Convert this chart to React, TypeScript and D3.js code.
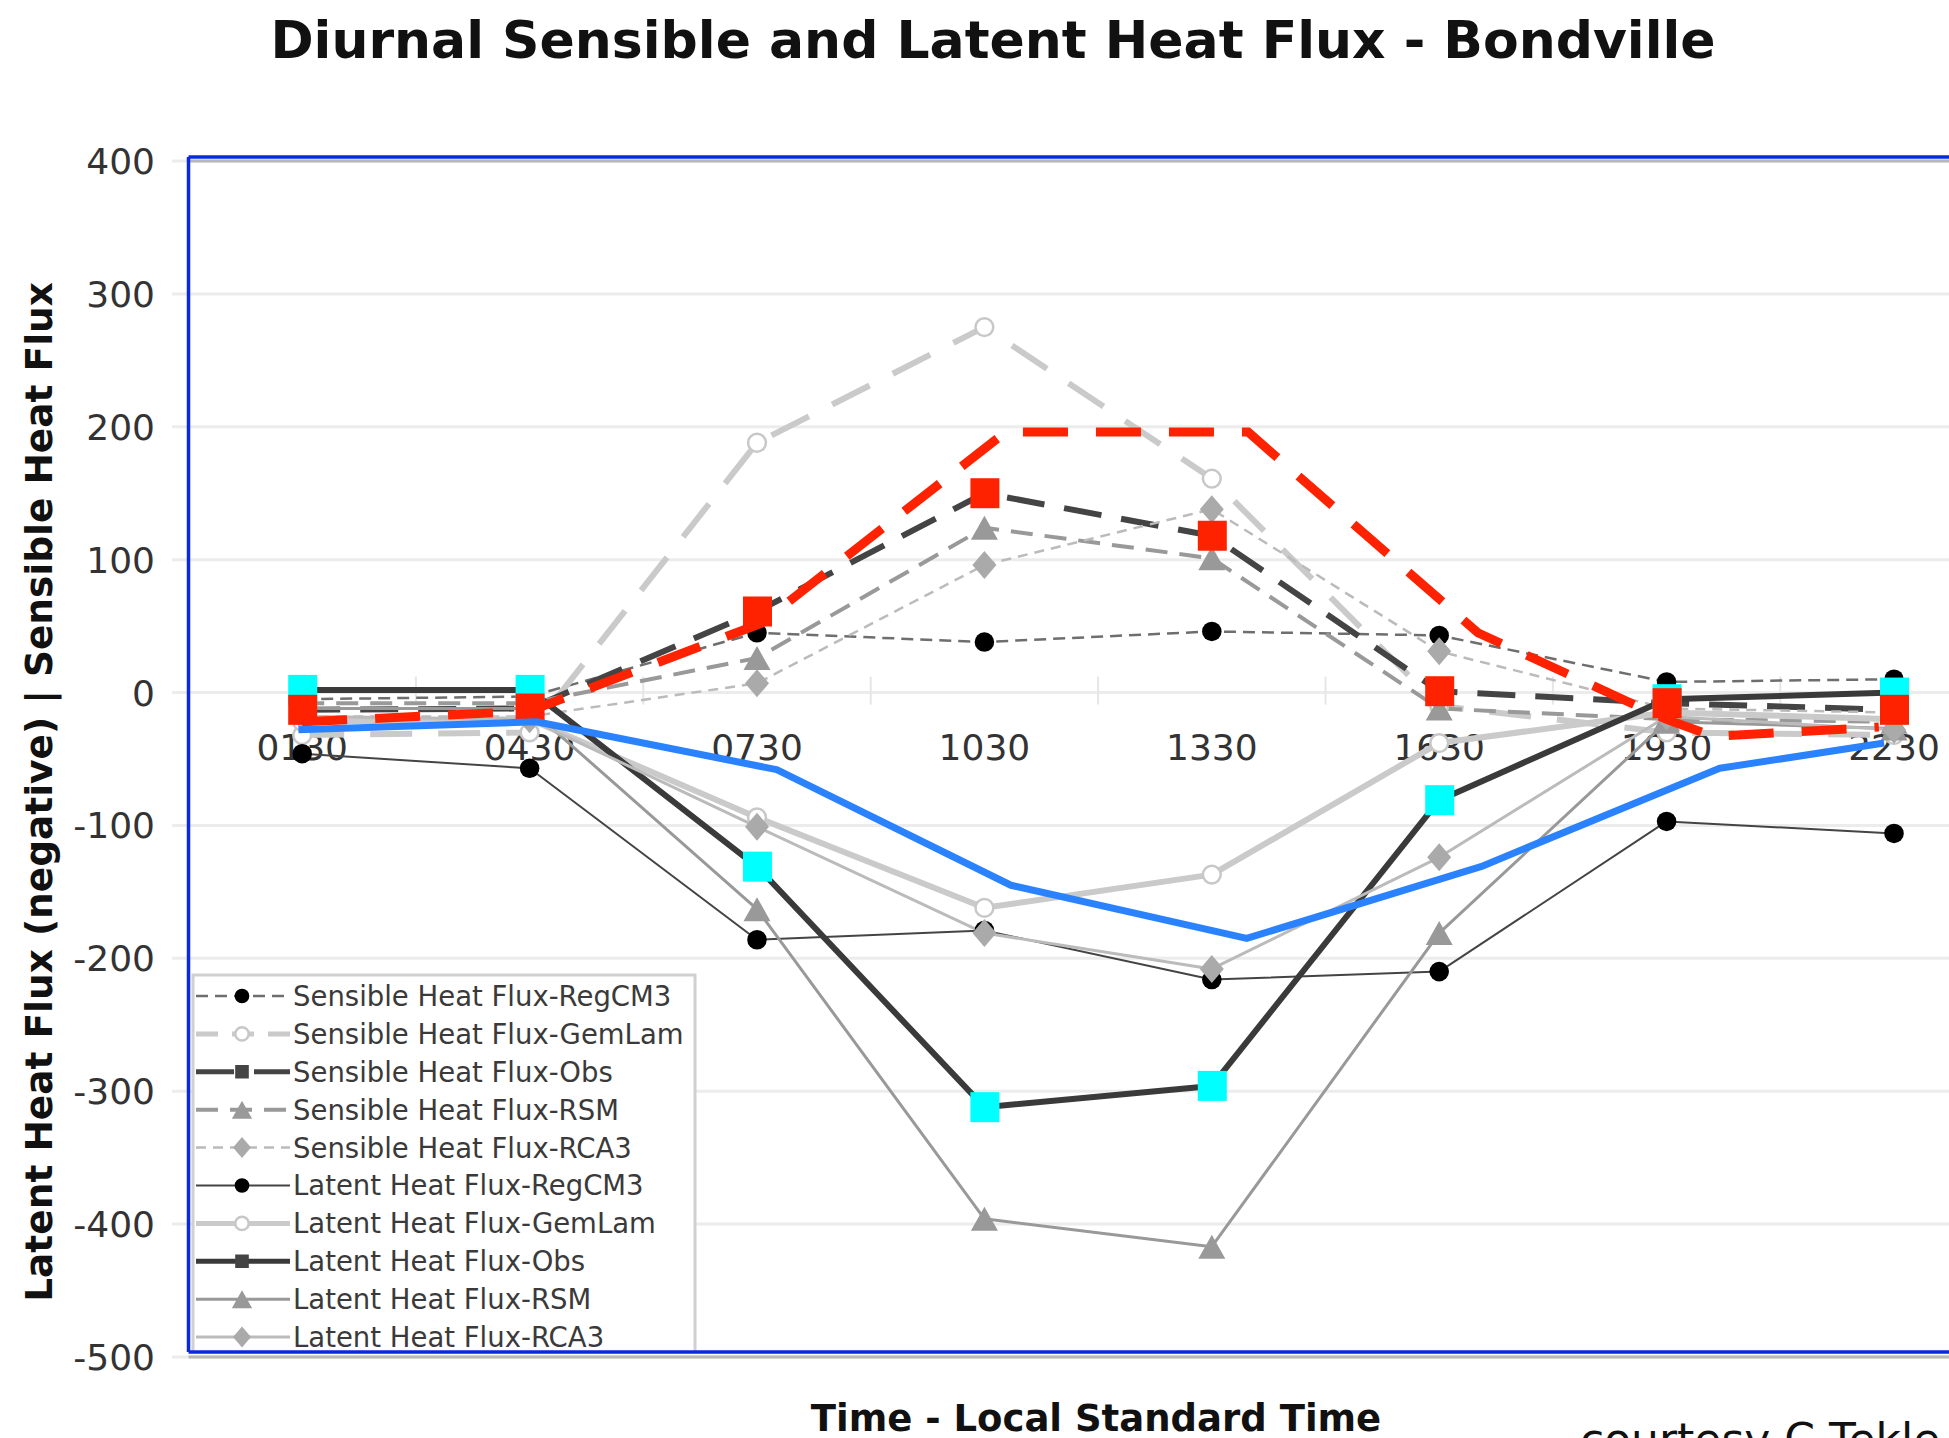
import React from 'react';
import * as d3 from 'd3';

const W = 1949;
const H = 1438;

// categories (local standard time) and their hour positions
const times = ['0130', '0430', '0730', '1030', '1330', '1630', '1930', '2230'];
const hours = [1.5, 4.5, 7.5, 10.5, 13.5, 16.5, 19.5, 22.5];
const yTicks = [400, 300, 200, 100, 0, -100, -200, -300, -400, -500];
const bandEdges = [3, 6, 9, 12, 15, 18, 21];

// Sensible heat flux (positive)
const sensibleRegCM3 = [-5, -3, 45, 38, 46, 43, 8, 10];
const sensibleGemLam = [-32, -30, 188, 275, 161, -10, -30, -32];
const sensibleObs = [-13, -12, 61, 150, 118, 1, -8, -13];
const sensibleRSM = [-8, -8, 26, 124, 101, -12, -20, -22];
const sensibleRCA3 = [-18, -18, 7, 96, 138, 31, -12, -15];

// Latent heat flux (negative)
const latentRegCM3 = [-46, -57, -186, -179, -216, -210, -97, -106];
const latentGemLam = [-22, -20, -94, -162, -137, -38, -15, -20];
const latentObs = [2, 2, -131, -312, -296, -81, -5, 0];
const latentRSM = [-12, -12, -163, -396, -417, -181, -22, -27];
const latentRCA3 = [-18, -20, -101, -181, -208, -124, -18, -28];

// hand-drawn overlays (hour of day, flux)
const redHours = [1.5, 4.5, 7.55, 10.78, 13.98, 17.01, 19.49, 20.12, 22.3];
const redValues = [-22, -14, 52, 196, 196, 45, -20, -33, -26];
const blueHours = [1.45, 4.59, 7.76, 10.85, 13.96, 17.05, 20.2, 22.37];
const blueValues = [-28, -22, -58, -145, -185, -131, -57, -38];

type Sym = 'circle' | 'open' | 'square' | 'triangle' | 'diamond';
interface Series {
  name: string;
  values: number[];
  color: string;
  width: number;
  dash?: string;
  marker: Sym;
  markerColor: string;
}

const series: Series[] = [
  { name: 'Sensible Heat Flux-RegCM3', values: sensibleRegCM3, color: '#6e6e6e', width: 2.5, dash: '12,7', marker: 'circle', markerColor: '#000' },
  { name: 'Sensible Heat Flux-GemLam', values: sensibleGemLam, color: '#cacaca', width: 6, dash: '42,26', marker: 'open', markerColor: '#c8c8c8' },
  { name: 'Sensible Heat Flux-Obs', values: sensibleObs, color: '#444', width: 6, dash: '38,20', marker: 'square', markerColor: '#444' },
  { name: 'Sensible Heat Flux-RSM', values: sensibleRSM, color: '#999', width: 4, dash: '22,12', marker: 'triangle', markerColor: '#999' },
  { name: 'Sensible Heat Flux-RCA3', values: sensibleRCA3, color: '#bbb', width: 2.5, dash: '10,7', marker: 'diamond', markerColor: '#aaa' },
  { name: 'Latent Heat Flux-RegCM3', values: latentRegCM3, color: '#444', width: 2, marker: 'circle', markerColor: '#000' },
  { name: 'Latent Heat Flux-GemLam', values: latentGemLam, color: '#cacaca', width: 6, marker: 'open', markerColor: '#c8c8c8' },
  { name: 'Latent Heat Flux-Obs', values: latentObs, color: '#3a3a3a', width: 6, marker: 'square', markerColor: '#444' },
  { name: 'Latent Heat Flux-RSM', values: latentRSM, color: '#999', width: 3, marker: 'triangle', markerColor: '#999' },
  { name: 'Latent Heat Flux-RCA3', values: latentRCA3, color: '#bbb', width: 3, marker: 'diamond', markerColor: '#aaa' },
];

const FONT = '"DejaVu Sans", Verdana, sans-serif';

const plotLeft = 188.5;
const hourPx = 75.8;
const x = d3.scaleLinear().domain([0, 24]).range([plotLeft, plotLeft + 24 * hourPx]);
const y = d3.scaleLinear().domain([-500, 400]).range([1357, 161]);

const symbolPath = (s: Sym, k: number) => {
  if (s === 'diamond') {
    const w = 12 * k;
    const h = 14 * k;
    return `M0,${-h}L${w},0L0,${h}L${-w},0Z`;
  }
  if (s === 'triangle') {
    const w = 13.5 * k;
    const h = 12 * k;
    return `M0,${-h}L${w},${h}L${-w},${h}Z`;
  }
  const type = s === 'square' ? d3.symbolSquare : d3.symbolCircle;
  const size = s === 'square' ? 330 : s === 'open' ? 250 : 300;
  return d3.symbol().type(type).size(size * k * k)() || '';
};

function Marker({ s, color, cx, cy, scale = 1 }: { s: Sym; color: string; cx: number; cy: number; scale?: number }) {
  const d = symbolPath(s, scale);
  if (s === 'open') {
    return <path d={d} transform={`translate(${cx},${cy})`} fill="#fff" stroke={color} strokeWidth={2.5} />;
  }
  return <path d={d} transform={`translate(${cx},${cy})`} fill={color} />;
}

export default function App() {
  const line = d3.line<number>().x((_, i) => x(hours[i])).y((d) => y(d));
  const redLine = d3.line<number>().x((_, i) => x(redHours[i])).y((d) => y(d));
  const blueLine = d3.line<number>().x((_, i) => x(blueHours[i])).y((d) => y(d));

  const plotTop = 157;
  const plotBottom = 1352;
  const legendX = 193;
  const legendY = 975;
  const legendRow = 37.9;
  const legendFirst = 996;

  return (
    <div style={{ position: 'absolute', left: 0, top: 0 }}>
      <svg width={W} height={H} style={{ display: 'block', background: '#fff' }}>
        <defs>
          <clipPath id="plotClip">
            <rect x={plotLeft} y={plotTop} width={W - plotLeft} height={plotBottom - plotTop} />
          </clipPath>
        </defs>

        {/* title */}
        <text x={993} y={58} textAnchor="middle" fontFamily={FONT} fontWeight="bold" fontSize={52} fill="#111">
          Diurnal Sensible and Latent Heat Flux - Bondville
        </text>

        {/* gridlines */}
        {yTicks.map((t) => (
          <line key={'g' + t} x1={172} x2={W} y1={y(t)} y2={y(t)} stroke="#ececec" strokeWidth={3} />
        ))}
        {/* small ticks on zero line */}
        {bandEdges.map((h) => (
          <line key={'bt' + h} x1={x(h)} x2={x(h)} y1={y(0) - 16} y2={y(0) + 12} stroke="#e6e6e6" strokeWidth={2} />
        ))}

        {/* y tick labels */}
        {yTicks.map((t) => (
          <text key={'yl' + t} x={155} y={y(t)} dy="0.36em" textAnchor="end" fontFamily={FONT} fontSize={36} fill="#333">
            {t}
          </text>
        ))}

        {/* x tick labels (inside plot, below zero line) */}
        {times.map((t, i) => (
          <text key={'xl' + t} x={x(hours[i])} y={760} textAnchor="middle" fontFamily={FONT} fontSize={36} fill="#333">
            {t}
          </text>
        ))}

        {/* series lines */}
        {series.map((s) => (
          <path
            key={'l' + s.name}
            d={line(s.values) || ''}
            fill="none"
            stroke={s.color}
            strokeWidth={s.width}
            strokeDasharray={s.dash}
            strokeLinejoin="round"
          />
        ))}
        {/* series markers */}
        {series.map((s) =>
          s.values.map((v, i) => (
            <Marker key={'m' + s.name + i} s={s.marker} color={s.markerColor} cx={x(hours[i])} cy={y(v)} />
          ))
        )}

        {/* highlighted observation markers */}
        {latentObs.map((v, i) => (
          <rect key={'c' + i} x={x(hours[i]) - 14} y={y(v) - 15} width={29} height={30} fill="#00ffff" />
        ))}
        {sensibleObs.map((v, i) => (
          <rect key={'r' + i} x={x(hours[i]) - 14} y={y(v) - 15} width={29} height={30} fill="#ff2200" />
        ))}

        {/* red dashed overlay */}
        <path d={redLine(redValues) || ''} fill="none" stroke="#ff2200" strokeWidth={9} strokeDasharray="45,28" />
        {/* blue overlay */}
        <path d={blueLine(blueValues) || ''} fill="none" stroke="#2a82ff" strokeWidth={7} strokeLinejoin="round" />

        {/* legend */}
        <g clipPath="url(#plotClip)">
          <rect x={legendX} y={legendY} width={502} height={420} fill="#fff" stroke="#d0d0d0" strokeWidth={3} />
          {series.map((s, i) => {
            const ly = legendFirst + i * legendRow;
            return (
              <g key={'lg' + s.name}>
                <line x1={196} x2={290} y1={ly} y2={ly} stroke={s.color} strokeWidth={Math.min(s.width, 5)} strokeDasharray={s.dash ? (s.marker === 'open' ? '22,14' : s.dash) : undefined} />
                <Marker s={s.marker} color={s.markerColor} cx={242} cy={ly} scale={0.75} />
                <text x={293} y={ly} dy="0.36em" fontFamily={FONT} fontSize={27.5} fill="#3a3a3a">
                  {s.name}
                </text>
              </g>
            );
          })}
        </g>

        {/* plot frame */}
        <line x1={plotLeft} x2={W} y1={161} y2={161} stroke="#b8b8b8" strokeWidth={3} />
        <line x1={plotLeft} x2={W} y1={1357} y2={1357} stroke="#b8b8b8" strokeWidth={3} />
        <line x1={plotLeft} x2={W} y1={plotTop} y2={plotTop} stroke="#0a28e0" strokeWidth={3.5} />
        <line x1={plotLeft} x2={W} y1={plotBottom} y2={plotBottom} stroke="#0a28e0" strokeWidth={3.5} />
        <line x1={plotLeft} x2={plotLeft} y1={plotTop} y2={plotBottom} stroke="#0a28e0" strokeWidth={3.5} />

        {/* axis titles */}
        <text
          transform={`translate(52,792) rotate(-90)`}
          textAnchor="middle"
          fontFamily={FONT}
          fontWeight="bold"
          fontSize={37.5}
          fill="#111"
        >
          Latent Heat Flux (negative) | Sensible Heat Flux
        </text>
        <text x={1096} y={1431} textAnchor="middle" fontFamily={FONT} fontWeight="bold" fontSize={37} fill="#111">
          Time - Local Standard Time
        </text>
        <text x={1580} y={1455} fontFamily={FONT} fontSize={44} fill="#111">
          courtesy C.Tekle
        </text>
      </svg>
    </div>
  );
}
